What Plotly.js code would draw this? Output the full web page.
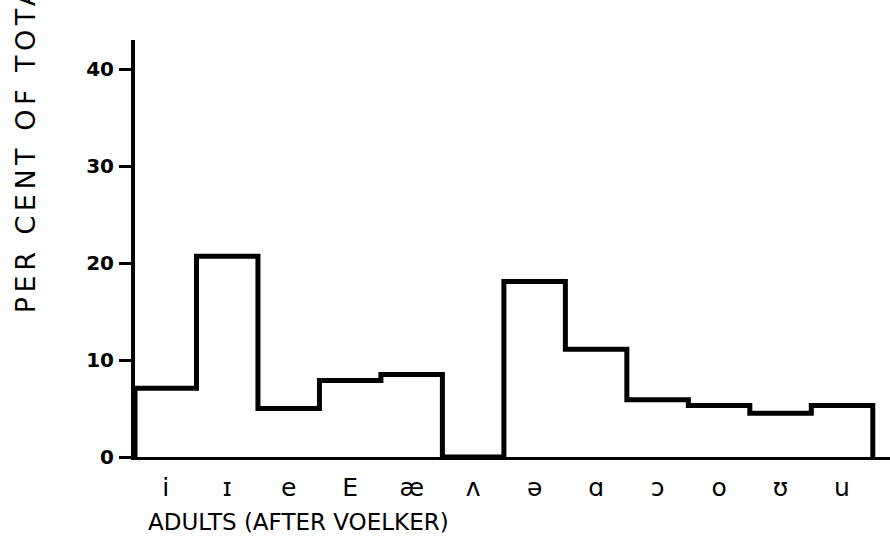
<!DOCTYPE html>
<html>
<head>
<meta charset="utf-8">
<script src="https://cdn.plot.ly/plotly-3.0.1.min.js"></script>
<style>html,body{margin:0;padding:0;background:#fff;}#chart{width:890px;height:539px;}</style>
</head>
<body>
<div id="chart"></div>
<script>
// Vowel categories (tick labels) and per cent of total for each
var vowels = ["i", "ɪ", "e", "E", "æ", "ʌ", "ə", "ɑ", "ɔ", "o", "ʊ", "u"];
var percents = [7.1, 20.7, 5.0, 7.9, 8.5, 0.0, 18.1, 11.1, 5.9, 5.3, 4.5, 5.3];
var yTicks = [0, 10, 20, 30, 40];

// Build outline of the step histogram from the data (bin edges at index ± 0.5)
var idx = vowels.map(function (_, i) { return i; });
var xs = [-0.5], ys = [0];
for (var i = 0; i < percents.length; i++) { xs.push(i - 0.5); ys.push(percents[i]); }
xs.push(percents.length - 0.5); ys.push(percents[percents.length - 1]);
xs.push(percents.length - 0.5); ys.push(0);

var font = "DejaVu Sans, Arial, sans-serif";
var trace = {
  x: xs, y: ys, type: "scatter", mode: "lines",
  line: {shape: "hv", color: "#000", width: 5},
  hoverinfo: "skip", showlegend: false
};

var layout = {
  width: 890, height: 539,
  margin: {l: 135, r: 0, t: 40, b: 82},
  paper_bgcolor: "#fff", plot_bgcolor: "#fff",
  font: {family: font, color: "#000"},
  showlegend: false,
  xaxis: {
    range: [-0.5, 11.78], tickmode: "array", tickvals: idx, ticktext: vowels,
    showgrid: false, zeroline: false, showline: true, linecolor: "#000", linewidth: 3,
    ticks: "", tickfont: {size: 25, family: font}, ticklabelstandoff: 6, fixedrange: true
  },
  yaxis: {
    range: [0, 43], tickmode: "array", tickvals: yTicks, ticktext: yTicks.map(String),
    showgrid: false, zeroline: false, showline: true, linecolor: "#000", linewidth: 4,
    ticks: "outside", ticklen: 12, tickwidth: 3, tickcolor: "#000",
    tickfont: {size: 20, family: font, weight: "bold"}, ticklabelstandoff: 1, fixedrange: true
  },
  annotations: [
    {text: "PER CENT OF TOTAL", textangle: -90, xref: "paper", yref: "paper",
     x: -0.145, y: 0.764, xanchor: "center", yanchor: "middle", showarrow: false,
     font: {size: 27, family: font, color: "#000"}},
    {text: "ADULTS (AFTER VOELKER)", xref: "paper", yref: "paper",
     x: 0.015, y: -0.155, xanchor: "left", yanchor: "middle", showarrow: false,
     font: {size: 23, family: font, color: "#000"}}
  ]
};

Plotly.newPlot("chart", [trace], layout, {displayModeBar: false, staticPlot: true}).then(function (gd) {
  var texts = gd.querySelectorAll(".annotation-text");
  if (texts[0]) texts[0].style.letterSpacing = "4.5px";
});
</script>
</body>
</html>
